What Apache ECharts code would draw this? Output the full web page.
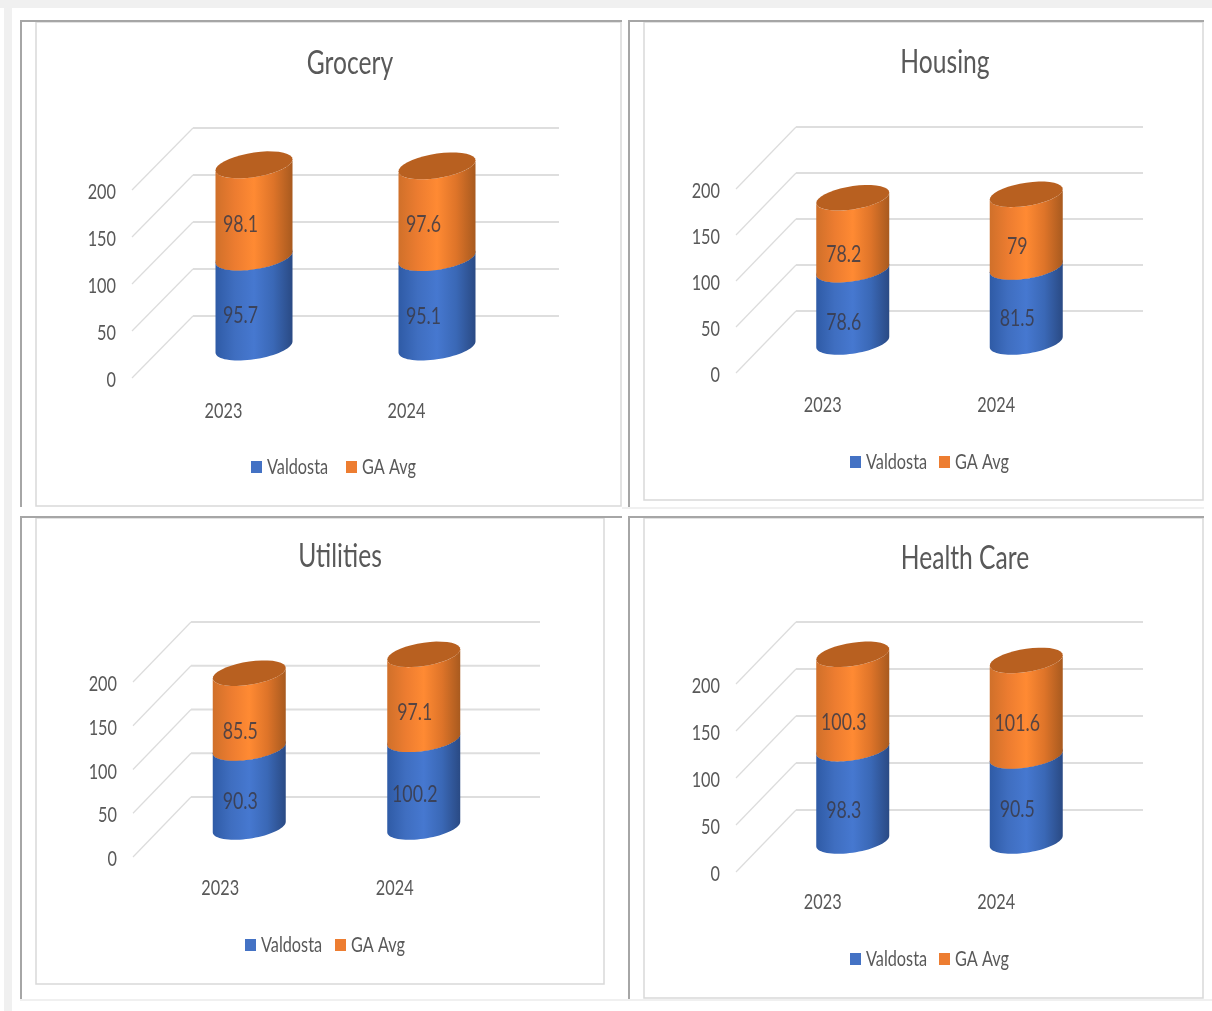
<!DOCTYPE html>
<html>
<head>
<meta charset="utf-8">
<style>html,body{margin:0;padding:0;background:#fff}#chart{width:1212px;height:1011px}</style>
<script src="https://cdn.jsdelivr.net/npm/echarts@6/dist/echarts.min.js"></script>
</head>
<body>
<div id="chart"></div>
<script>
// Cost-of-living comparison: Valdosta against the Georgia average
const years = ['2023', '2024'];
const axisTicks = [0, 50, 100, 150, 200];
const seriesNames = ['Valdosta', 'GA Avg'];

const panelNames = ['Grocery', 'Housing', 'Utilities', 'Health Care'];
const groceryValdosta = [95.7, 95.1];
const groceryGaAvg = [98.1, 97.6];
const housingValdosta = [78.6, 81.5];
const housingGaAvg = [78.2, 79];
const utilitiesValdosta = [90.3, 100.2];
const utilitiesGaAvg = [85.5, 97.1];
const healthValdosta = [98.3, 90.5];
const healthGaAvg = [100.3, 101.6];

const valdostaByPanel = [groceryValdosta, housingValdosta, utilitiesValdosta, healthValdosta];
const gaAvgByPanel = [groceryGaAvg, housingGaAvg, utilitiesGaAvg, healthGaAvg];

// Placement of each panel on the page
const panelLayouts = [
  { left: 132, top: 190, width: 366, height: 188, dx: 61, dy: -62, radius: 38.5, titleX: 350, titleY: 48, legendX: [251, 346], legendY: 456, labelDx: 17, labelDy: -19, yearMargin: 22 },
  { left: 736, top: 189, width: 347, height: 184, dx: 60, dy: -62, radius: 36.5, titleX: 945, titleY: 47, legendX: [850, 939], legendY: 451, labelDx: 21, labelDy: -16, yearMargin: 21 },
  { left: 133, top: 682, width: 349, height: 175, dx: 58, dy: -60, radius: 36.5, titleX: 340, titleY: 541, legendX: [245, 335], legendY: 934, labelDx: 20, labelDy: -19, yearMargin: 20 },
  { left: 736, top: 684, width: 347, height: 188, dx: 60, dy: -62, radius: 36.5, titleX: 965, titleY: 543, legendX: [850, 939], legendY: 948, labelDx: 21, labelDy: -19, yearMargin: 19 }
];

// Hand-placed vertical shifts of the value labels, per panel: [Valdosta, GA Avg]
const labelShifts = [
  [[1, 2], [1, 1]],
  [[1, -1], [6, 1]],
  [[3, 0], [10, 4]],
  [[3, -1], [9, 3]]
];

const FONT = 'Lato, "Liberation Sans", sans-serif';
const TEXT = '#595959';
const BLUE = ['#2f5ba6', '#3f6ec0', '#4678d0', '#3a68b6', '#2a4a84'];
const ORANGE = ['#d0702a', '#ec7c30', '#ff8a33', '#de7429', '#a85a1f'];
const TILT = 0.143;      // slope of the elliptical cap
const FLATTEN = 0.32;    // cap height relative to its width
const TEXT_NARROW = 0.74; // horizontal squeeze of the condensed lettering
const TITLE_NARROW = 0.77;
const TICK_LABEL_DROP = 2; // value-axis labels sit slightly below their tick level

function ellipsePoints(cx, cy, a, from, to) {
  const pts = [];
  const steps = 36;
  for (let i = 0; i <= steps; i++) {
    const t = from + (to - from) * i / steps;
    const x = a * Math.cos(t);
    pts.push([cx + x, cy + FLATTEN * a * Math.sin(t) - TILT * x]);
  }
  return pts;
}

function ramp(colors) {
  const stops = colors.map((color, i) => ({ offset: i / (colors.length - 1), color }));
  return new echarts.graphic.LinearGradient(0, 0, 1, 0, stops);
}

function cylinderRenderer(layout, colors, capColor, shifts) {
  return function (params, api) {
    const idx = api.value(0);
    const base = api.coord([idx, api.value(1)]);
    const top = api.coord([idx, api.value(2)]);
    const cx = base[0] + layout.dx / 2;
    const yBase = base[1] + layout.dy / 2;
    const yTop = top[1] + layout.dy / 2;
    const a = layout.radius;
    const lowerTop = ellipsePoints(cx, yTop, a, Math.PI, 0);
    const lowerBase = ellipsePoints(cx, yBase, a, 0, Math.PI);
    const mid = api.coord([idx, (api.value(1) + api.value(2)) / 2]);
    return {
      type: 'group',
      children: [
        { type: 'polygon', shape: { points: lowerTop.concat(lowerBase) }, style: { fill: ramp(colors) } },
        { type: 'polygon', shape: { points: ellipsePoints(cx, yTop, a, 0, Math.PI * 2) }, style: { fill: capColor } },
        {
          type: 'text',
          z2: 10,
          style: {
            text: String(api.value(3)),
            x: mid[0] + layout.labelDx,
            y: mid[1] + layout.labelDy + shifts[idx],
            align: 'center',
            verticalAlign: 'middle',
            font: '24px ' + FONT,
            fill: 'rgba(58,58,70,0.85)'
          }
        }
      ]
    };
  };
}

function wallRenderer(layout) {
  return function (params, api) {
    const p = api.coord([0, api.value(0)]);
    const x0 = params.coordSys.x;
    const x1 = x0 + params.coordSys.width;
    const backY = p[1] + layout.dy;
    return {
      type: 'group',
      children: [
        { type: 'line', shape: { x1: x0, y1: p[1], x2: x0 + layout.dx, y2: backY }, style: { stroke: '#dcdcdc', lineWidth: 1.2 } },
        { type: 'line', shape: { x1: x0 + layout.dx, y1: backY, x2: x1 + layout.dx, y2: backY }, style: { stroke: '#dedede', lineWidth: 2 } }
      ]
    };
  };
}

// Screenshot-style frames around the four panels
const frames = [
  { x: 20, y: 20, right: 622, bottom: 507, innerX: 36, innerY: 22, innerR: 621, innerB: 506 },
  { x: 628, y: 20, right: 1204, bottom: 507, innerX: 644, innerY: 22, innerR: 1203, innerB: 500 },
  { x: 20, y: 516, right: 622, bottom: 999, innerX: 36, innerY: 518, innerR: 604, innerB: 984 },
  { x: 628, y: 516, right: 1204, bottom: 999, innerX: 644, innerY: 518, innerR: 1203, innerB: 998 }
];

const graphics = [
  { type: 'rect', shape: { x: 0, y: 0, width: 1212, height: 8 }, style: { fill: '#f0f0f0' } },
  { type: 'rect', shape: { x: 4, y: 0, width: 8, height: 1011 }, style: { fill: '#f0f0f0' } },
  { type: 'rect', shape: { x: 622, y: 507, width: 582, height: 2 }, style: { fill: '#f0f0f0' } },
  { type: 'rect', shape: { x: 20, y: 999, width: 1192, height: 2 }, style: { fill: '#f0f0f0' } }
];
frames.forEach(f => {
  graphics.push(
    { type: 'rect', shape: { x: f.innerX, y: f.innerY, width: f.innerR - f.innerX, height: f.innerB - f.innerY }, style: { fill: '#fff', stroke: '#d9d9d9', lineWidth: 1.5 } },
    { type: 'rect', shape: { x: f.x, y: f.y, width: f.right - f.x, height: 2 }, style: { fill: '#a6a6a6' } },
    { type: 'rect', shape: { x: f.x, y: f.y, width: 2, height: f.bottom - f.y }, style: { fill: '#a6a6a6' } }
  );
});

const option = {
  backgroundColor: '#ffffff',
  animation: false,
  graphic: { elements: graphics },
  title: [],
  legend: [],
  grid: [],
  xAxis: [],
  yAxis: [],
  series: []
};

panelLayouts.forEach((layout, p) => {
  option.title.push({
    text: panelNames[p],
    left: layout.titleX,
    top: layout.titleY,
    padding: 0,
    textAlign: 'center',
    textStyle: { fontFamily: FONT, fontSize: 32, fontWeight: 'normal', color: TEXT }
  });
  seriesNames.forEach((name, s) => {
    option.legend.push({
      data: [name],
      left: layout.legendX[s],
      top: layout.legendY,
      padding: 0,
      icon: 'rect',
      itemWidth: 11,
      itemHeight: 12,
      selectedMode: false,
      textStyle: { fontFamily: FONT, fontSize: 22, color: TEXT }
    });
  });
  option.grid.push({ left: layout.left, top: layout.top, width: layout.width, height: layout.height });
  option.xAxis.push({
    type: 'category',
    gridIndex: p,
    data: years,
    axisLine: { show: false },
    axisTick: { show: false },
    axisLabel: { fontFamily: FONT, fontSize: 22, color: TEXT, margin: layout.yearMargin }
  });
  option.yAxis.push({
    type: 'value',
    gridIndex: p,
    min: 0,
    max: 200,
    interval: 50,
    axisLine: { show: false },
    axisTick: { show: false },
    splitLine: { show: false },
    axisLabel: { fontFamily: FONT, fontSize: 22, color: TEXT, margin: 16 }
  });

  option.series.push({
    type: 'custom',
    name: 'Gridlines',
    xAxisIndex: p,
    yAxisIndex: p,
    silent: true,
    clip: false,
    encode: { y: 0 },
    data: axisTicks.map(t => [t]),
    renderItem: wallRenderer(layout)
  });

  const valdosta = valdostaByPanel[p];
  const gaAvg = gaAvgByPanel[p];
  option.series.push({
    type: 'custom',
    name: seriesNames[0],
    xAxisIndex: p,
    yAxisIndex: p,
    clip: false,
    itemStyle: { color: '#4472c4' },
    encode: { x: 0, y: 2 },
    data: valdosta.map((v, i) => [i, 0, v, v]),
    renderItem: cylinderRenderer(layout, BLUE, '#35599a', labelShifts[p][0])
  });
  option.series.push({
    type: 'custom',
    name: seriesNames[1],
    xAxisIndex: p,
    yAxisIndex: p,
    clip: false,
    itemStyle: { color: '#ed7d31' },
    encode: { x: 0, y: 2 },
    data: gaAvg.map((v, i) => [i, valdosta[i], valdosta[i] + v, v]),
    renderItem: cylinderRenderer(layout, ORANGE, '#b86020', labelShifts[p][1])
  });
});

const chart = echarts.init(document.getElementById('chart'), null, { renderer: 'canvas' });
chart.setOption(option);

// Squeeze every text element about its own anchor to get the condensed lettering
const zr = chart.getZr();
zr.storage.getRoots().forEach(root => {
  root.traverse(el => {
    if (el.type === 'text' && el.style && el.style.text != null) {
      const isTitle = panelNames.indexOf(String(el.style.text)) >= 0;
      el.originX = el.style.x || 0;
      el.originY = el.style.y || 0;
      el.scaleX = isTitle ? TITLE_NARROW : TEXT_NARROW;
      if (el.style.align === 'right') {
        el.y += TICK_LABEL_DROP;
      }
      el.markRedraw();
    }
  });
});
zr.refreshImmediately();
</script>
</body>
</html>
